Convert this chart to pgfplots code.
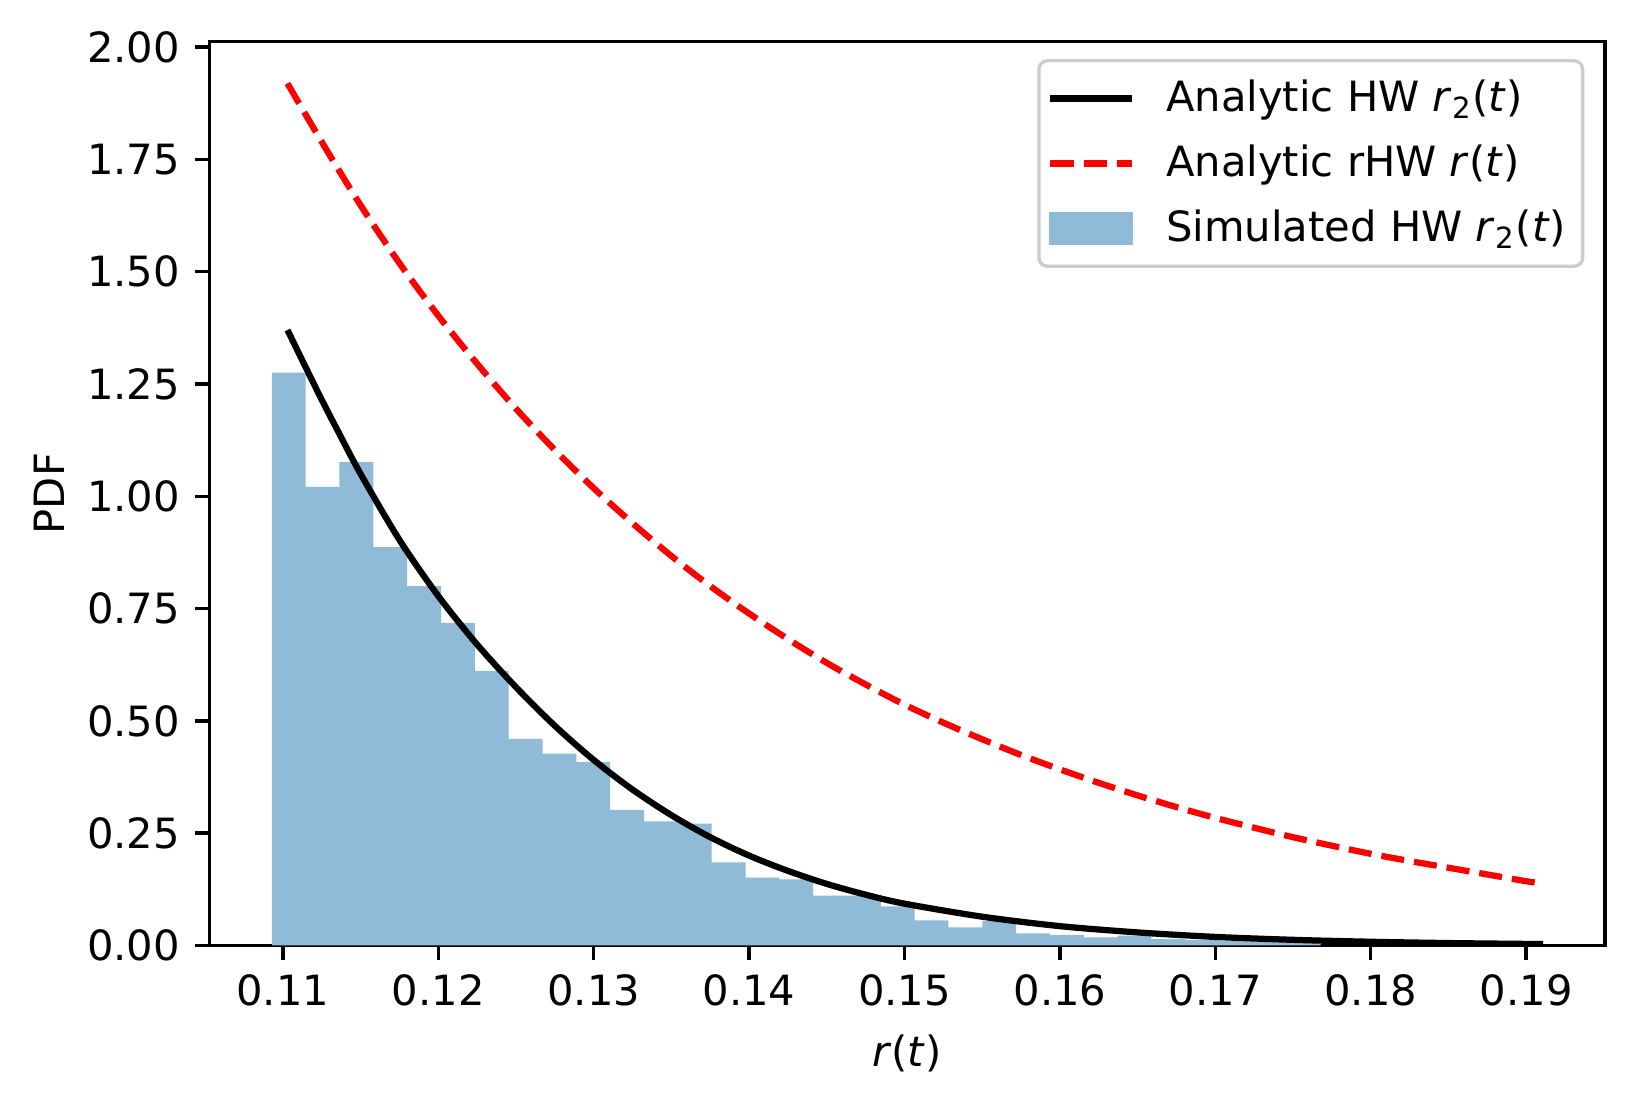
\documentclass[border=0pt]{standalone}
\usepackage{fontspec}
\setmainfont{DejaVu Sans}
\usepackage{pgfplots}
\usepackage{pgfplotstable}
\pgfplotsset{compat=1.18}
\definecolor{histblue}{HTML}{8FBBD9}
\definecolor{legendgray}{HTML}{CCCCCC}
\newcommand{\rtwo}{\textit{r}\textsubscript{2}(\textit{t})}

% histogram: left bin edges and heights (last row = right edge of last bin)
\pgfplotstableread{
x y
0.10929 1.275
0.11147 1.021
0.11364 1.076
0.11582 0.887
0.11800 0.800
0.12018 0.718
0.12235 0.611
0.12453 0.460
0.12671 0.427
0.12888 0.408
0.13106 0.302
0.13324 0.276
0.13541 0.271
0.13759 0.185
0.13977 0.151
0.14195 0.147
0.14412 0.111
0.14630 0.111
0.14848 0.087
0.15065 0.056
0.15283 0.040
0.15501 0.054
0.15718 0.027
0.15936 0.023
0.16154 0.018
0.16372 0.022
0.16589 0.014
0.16807 0.012
0.17025 0.010
0.17242 0.009
0.17460 0.016
0.17678 0.016
}\histdata

\pgfplotstableread{
x y
0.1103 1.370
0.1115 1.285
0.1125 1.215
0.1135 1.148
0.1150 1.050
0.1175 0.903
0.1200 0.778
0.1225 0.670
0.1250 0.575
0.1275 0.489
0.1300 0.413
0.1325 0.347
0.1350 0.290
0.1375 0.241
0.1400 0.200
0.1425 0.166
0.1450 0.137
0.1475 0.113
0.1500 0.093
0.1550 0.064
0.1600 0.043
0.1650 0.029
0.1700 0.019
0.1750 0.0125
0.1800 0.0082
0.1850 0.0053
0.1900 0.0034
0.1911 0.0031
}\hwdata

\pgfplotstableread{
x y
0.1103 1.919
0.1125 1.789
0.1150 1.648
0.1175 1.519
0.1200 1.402
0.1225 1.295
0.1250 1.195
0.1275 1.103
0.1300 1.018
0.1325 0.940
0.1350 0.867
0.1375 0.800
0.1400 0.739
0.1425 0.682
0.1450 0.629
0.1475 0.581
0.1500 0.536
0.1525 0.496
0.1550 0.459
0.1575 0.424
0.1600 0.392
0.1625 0.362
0.1650 0.334
0.1675 0.308
0.1700 0.284
0.1725 0.262
0.1750 0.241
0.1775 0.222
0.1800 0.204
0.1825 0.188
0.1850 0.173
0.1875 0.158
0.1900 0.143
0.1911 0.138
}\rhwdata

\begin{document}
\fontsize{10}{12}\selectfont
\begin{tikzpicture}
\useasboundingbox (-50.2pt,-37.6pt) rectangle (341.7pt,226.9pt);
\begin{axis}[
  at={(0,0)}, anchor=south west,
  scale only axis, width=335pt, height=216.9pt,
  xmin=0.10526, xmax=0.19508, ymin=0, ymax=2.012,
  axis line style={line width=0.8pt},
  tick style={line width=0.8pt, black},
  tick align=outside, tick pos=left,
  major tick length=3.5pt,
  scaled ticks=false,
  xtick={0.11,0.12,0.13,0.14,0.15,0.16,0.17,0.18,0.19},
  ytick={0,0.25,0.5,0.75,1,1.25,1.5,1.75,2},
  xticklabel style={/pgf/number format/.cd, fixed, fixed zerofill, precision=2, assume math mode=true},
  yticklabel style={/pgf/number format/.cd, fixed, fixed zerofill, precision=2, assume math mode=true},
  ticklabel style={font=\fontsize{10}{12}\selectfont},
  xlabel={\textit{r}(\textit{t})},
  ylabel={PDF},
  every axis x label/.style={at={(axis description cs:0.5,0)}, yshift=-26pt, anchor=center, font=\fontsize{10}{12}\selectfont},
  every axis y label/.style={at={(axis description cs:0,0.5)}, xshift=-38.4pt, rotate=90, anchor=center, font=\fontsize{10}{12}\selectfont},
  legend image code/.code={\draw[#1] (0pt,0pt) -- (19.5pt,0pt); \path[draw=none, fill=none] (-0.5pt,0pt) -- (25.8pt,0pt);},
  legend cell align=left,
  legend style={at={(1,1)}, anchor=north east, xshift=-5pt, yshift=-4.2pt,
    draw=legendgray, line width=0.8pt, rounded corners=2pt, fill=white,
    font=\fontsize{10}{12}\selectfont, inner xsep=2pt, inner ysep=2.5pt, row sep=2.5pt},
]
\addplot[const plot mark left, fill=histblue, draw=none, forget plot] table[x=x,y=y]{\histdata} \closedcycle;
\addplot[black, line width=1.5pt, smooth] table[x=x,y=y]{\hwdata};
\addplot[red, line width=1.5pt, dash pattern=on 5.55pt off 2.4pt, smooth] table[x=x,y=y]{\rhwdata};
\addlegendimage{legend image code/.code={\fill[histblue, sharp corners] (0pt,-3.5pt) rectangle (19.5pt,3.5pt); \path[draw=none, fill=none] (-0.5pt,0pt) -- (25.8pt,0pt);}}
\legend{Analytic HW \rtwo, Analytic rHW \textit{r}(\textit{t}), Simulated HW \rtwo}
\end{axis}
\end{tikzpicture}
\end{document}
